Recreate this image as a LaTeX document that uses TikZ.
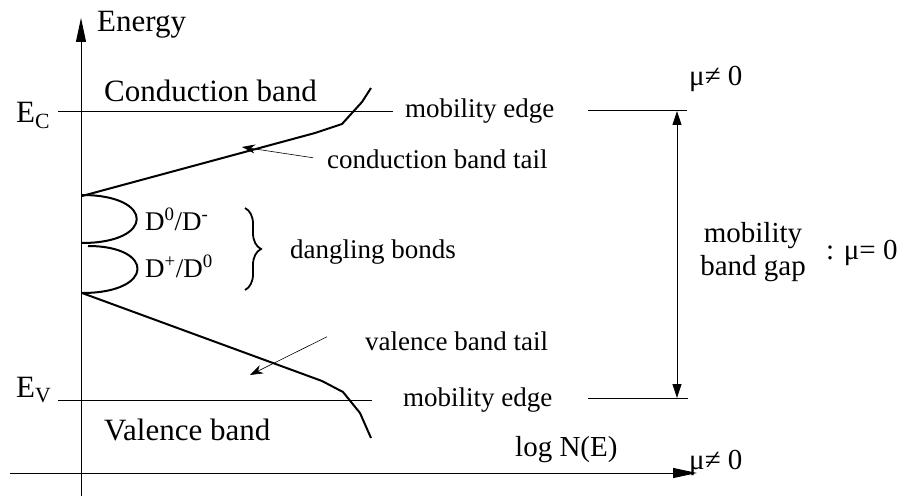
\documentclass[tikz,border=0pt]{standalone}
\usepackage{fontspec}
\setmainfont{Liberation Serif}
\usetikzlibrary{arrows.meta,decorations.pathreplacing}
\tikzset{
    big-label/.style = {font=\fontsize{31}{36}\selectfont, inner sep=0pt},
    small-label/.style = {font=\fontsize{27}{31}\selectfont, inner sep=0pt},
    right-label/.style = {font=\fontsize{29}{33}\selectfont, inner sep=0pt},
    level-line/.style = {line width=1pt},
    tail-curve/.style = {line width=2pt, line join=round},
    axis-arrow/.style = {line width=1pt, -{Triangle[length=24pt,width=10pt]}},
    gap-arrow/.style = {line width=0.8pt, {Triangle[length=14pt,width=9pt]}-{Triangle[length=14pt,width=9pt]}},
    pointer-arrow/.style = {line width=0.6pt, -{Stealth[length=13pt,width=9pt]}},
}

\begin{document}
\begin{tikzpicture}[x=1pt,y=-1pt]
\useasboundingbox (0,0) rectangle (909,497);

\draw[axis-arrow] (81,496) -- (81,18);
\draw[axis-arrow] (10,473) -- (697,473);
\node[big-label, anchor=base west] (energy) at (97,32) {Energy};
\node[right-label, anchor=base west] (logN) at (515,456) {log N(E)};

\node[big-label, anchor=base west] (ec) at (16,123) {E\textsubscript{C}};
\node[big-label, anchor=base west] (ev) at (16,397) {E\textsubscript{V}};
\draw[level-line] (58,112) -- (393,112);
\draw[level-line] (58,400) -- (372,400);
\node[big-label, anchor=base west] (cband) at (104,102) {Conduction band};
\node[big-label, anchor=base west] (vband) at (104,440) {Valence band};

\node[small-label, anchor=base west] (medge-c) at (405,118) {mobility edge};
\node[small-label, anchor=base west] (medge-v) at (403,406) {mobility edge};
\draw[level-line] (588,111) -- (687,111);
\draw[level-line] (588,398) -- (688,398);
\draw[gap-arrow] (677,111) -- (677,398);
\node[right-label, align=center] (gap) at (753,252) {mobility\\band gap};
\node[right-label, anchor=base west] (mu-gap) at (826,259) {: μ= 0};
\node[right-label, anchor=base west] (mu-c) at (689,86) {μ≠ 0};
\node[right-label, anchor=base west] (mu-v) at (689,469) {μ≠ 0};

\draw[tail-curve] (82,196) -- (315,133) -- (342,124) -- (362,102) -- (371,88);
\draw[tail-curve] (82,293) -- (322,381) -- (343,392) -- (360,413) -- (371,438);
\draw[tail-curve] (82,195) .. controls (155,195) and (155,243) .. (82,243);
\draw[tail-curve] (88,246) .. controls (155,246) and (155,293) .. (82,293);

\node[small-label, anchor=base west] (d-upper) at (145,230) {D\textsuperscript{0}/D\textsuperscript{-}};
\node[small-label, anchor=base west] (d-lower) at (145,277) {D\textsuperscript{+}/D\textsuperscript{0}};
\draw[line width=1.8pt, decorate, decoration={brace, amplitude=16pt}] (245,208) -- (245,290);
\node[small-label, anchor=base west] (dangling) at (290,258) {dangling bonds};

\node[small-label, anchor=base west] (ctail) at (327,168) {conduction band tail};
\node[small-label, anchor=base west] (vtail) at (365,350) {valence band tail};
\coordinate (ctail-tip) at (242,147);
\coordinate (vtail-tip) at (250,375);
\draw[pointer-arrow] ([xshift=-14pt,yshift=1pt]ctail.west) -- (ctail-tip);
\draw[pointer-arrow] ([xshift=-38pt,yshift=4pt]vtail.west) -- (vtail-tip);
\end{tikzpicture}
\end{document}
